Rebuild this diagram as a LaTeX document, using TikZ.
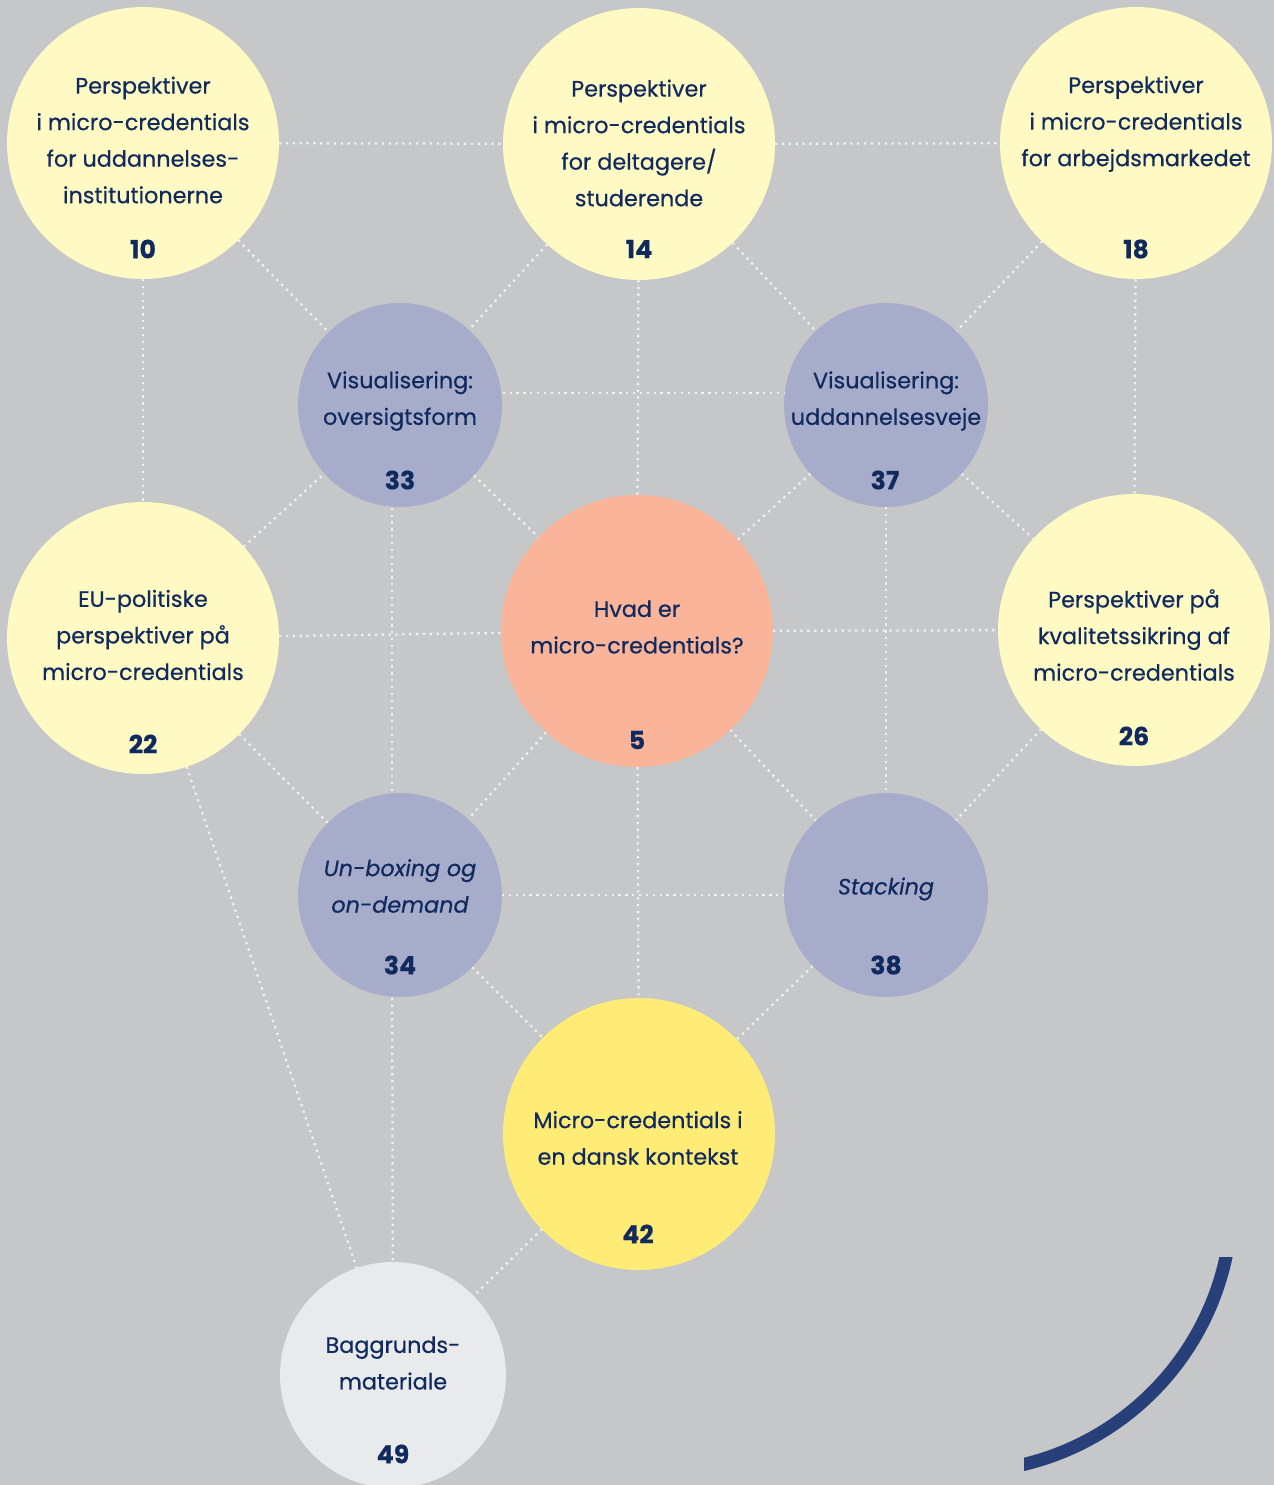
\documentclass[tikz,border=0pt]{standalone}
\usepackage{fontspec}
\setmainfont{Poppins}[FakeBold=0.5]
\usetikzlibrary{backgrounds,calc}

\definecolor{bggray}{RGB}{198,199,201}
\definecolor{paleyellow}{RGB}{255,249,196}
\definecolor{lavender}{RGB}{167,172,203}
\definecolor{salmon}{RGB}{249,180,154}
\definecolor{sunyellow}{RGB}{255,236,119}
\definecolor{lightgray}{RGB}{233,234,236}
\definecolor{navy}{RGB}{16,42,94}
\definecolor{arcnavy}{RGB}{39,64,122}

\tikzset{
    bubble/.style={circle, inner sep=0pt, outer sep=0pt, draw=none, minimum size=#1},
    big/.style={bubble=5.44cm},
    mid/.style={bubble=4.08cm},
    small/.style={bubble=4.52cm},
    txt/.style={text=navy, align=center, inner sep=0pt,
        font=\fontsize{12.7}{20.8}\selectfont},
    num/.style={text=navy, inner sep=0pt,
        font=\fontsize{14.3}{16}\selectfont\bfseries},
    conn/.style={draw=white, opacity=0.75, line width=1.3pt,
        dash pattern=on 1.3pt off 2.6pt}
}

\begin{document}
\begin{tikzpicture}[x=0.02cm, y=-0.02cm]

    \useasboundingbox (0,0) rectangle (1274,1485);

    % circles
    \node[big, fill=paleyellow] (p10) at (143,143) {};
    \node[big, fill=paleyellow] (p14) at (639,144) {};
    \node[big, fill=paleyellow] (p18) at (1136,143) {};
    \node[mid, fill=lavender] (v33) at (400,405) {};
    \node[mid, fill=lavender] (v37) at (886,405) {};
    \node[big, fill=paleyellow] (p22) at (143,638) {};
    \node[big, fill=salmon] (h5) at (637,631) {};
    \node[big, fill=paleyellow] (p26) at (1134,630) {};
    \node[mid, fill=lavender] (u34) at (400,895) {};
    \node[mid, fill=lavender] (s38) at (886,895) {};
    \node[big, fill=sunyellow] (d42) at (639,1134) {};
    \node[small, fill=lightgray] (b49) at (393,1375) {};

    % background and dotted grid
    \begin{scope}[on background layer]
        \fill[bggray] (0,0) rectangle (1274,1485);

        \draw[conn] (p10) -- (p14);
        \draw[conn] (p14) -- (p18);
        \draw[conn] (p10) -- (p22);
        \draw[conn] (p18) -- (p26);
        \draw[conn] (p10) -- (v33);
        \draw[conn] (p14) -- (v33);
        \draw[conn] (p14) -- (v37);
        \draw[conn] (p18) -- (v37);
        \draw[conn] (p14) -- (h5);
        \draw[conn] ($(v33)+(0,-12)$) -- ($(v37)+(0,-12)$);
        \draw[conn] (p22) -- (v33);
        \draw[conn] (v33) -- (h5);
        \draw[conn] (v37) -- (h5);
        \draw[conn] (v37) -- (p26);
        \draw[conn] (p22) -- (h5);
        \draw[conn] (h5) -- (p26);
        \draw[conn] ($(v33)+(-8,0)$) -- ($(u34)+(-8,0)$);
        \draw[conn] (v37) -- (s38);
        \draw[conn] (p22) -- (u34);
        \draw[conn] (h5) -- (u34);
        \draw[conn] (h5) -- (s38);
        \draw[conn] (p26) -- (s38);
        \draw[conn] (u34) -- (s38);
        \draw[conn] (h5) -- (d42);
        \draw[conn] (u34) -- (d42);
        \draw[conn] (s38) -- (d42);
        \draw[conn] ($(u34)+(-8,0)$) -- (b49);
        \draw[conn] (d42) -- (b49);
        \draw[conn] (p22) -- (b49);
    \end{scope}

    % texts
    \node[txt] (p10t) at (143,140) {Perspektiver\\i micro-credentials\\for uddannelses-\\institutionerne};
    \node[num] (p10n) at (143,249) {10};
    \node[txt] (p14t) at (639,143) {Perspektiver\\i micro-credentials\\for deltagere/\\studerende};
    \node[num] (p14n) at (639,249) {14};
    \node[txt] (p18t) at (1136,124) {Perspektiver\\i micro-credentials\\for arbejdsmarkedet};
    \node[num] (p18n) at (1136,249) {18};
    \node[txt] (v33t) at (400,401) {Visualisering:\\oversigtsform};
    \node[num] (v33n) at (400,480) {33};
    \node[txt] (v37t) at (886,401) {Visualisering:\\uddannelsesveje};
    \node[num] (v37n) at (885,480) {37};
    \node[txt] (p22t) at (143,635) {EU-politiske\\perspektiver på\\micro-credentials};
    \node[num] (p22n) at (143,744) {22};
    \node[txt] (h5t) at (637,627) {Hvad er\\micro-credentials?};
    \node[num] (h5n) at (637,740) {5};
    \node[txt] (p26t) at (1134,635) {Perspektiver på\\kvalitetssikring af\\micro-credentials};
    \node[num] (p26n) at (1134,736) {26};
    \node[txt, font=\fontsize{12.7}{20.8}\selectfont\itshape] (u34t) at (400,886) {Un-boxing og\\on-demand};
    \node[num] (u34n) at (400,965) {34};
    \node[txt, font=\fontsize{12.7}{20.8}\selectfont\itshape] (s38t) at (886,889) {Stacking};
    \node[num] (s38n) at (886,965) {38};
    \node[txt] (d42t) at (638,1138) {Micro-credentials i\\en dansk kontekst};
    \node[num] (d42n) at (638,1234) {42};
    \node[txt] (b49t) at (393,1363) {Baggrunds-\\materiale};
    \node[num] (b49n) at (393,1454) {49};

    % corner arc
    \begin{scope}
        \clip (1024,1257) rectangle (1274,1485);
        \draw[arcnavy, line width=0.26cm] (960,1200) ++(8:272) arc[start angle=8, end angle=82, radius=272];
    \end{scope}

\end{tikzpicture}
\end{document}
